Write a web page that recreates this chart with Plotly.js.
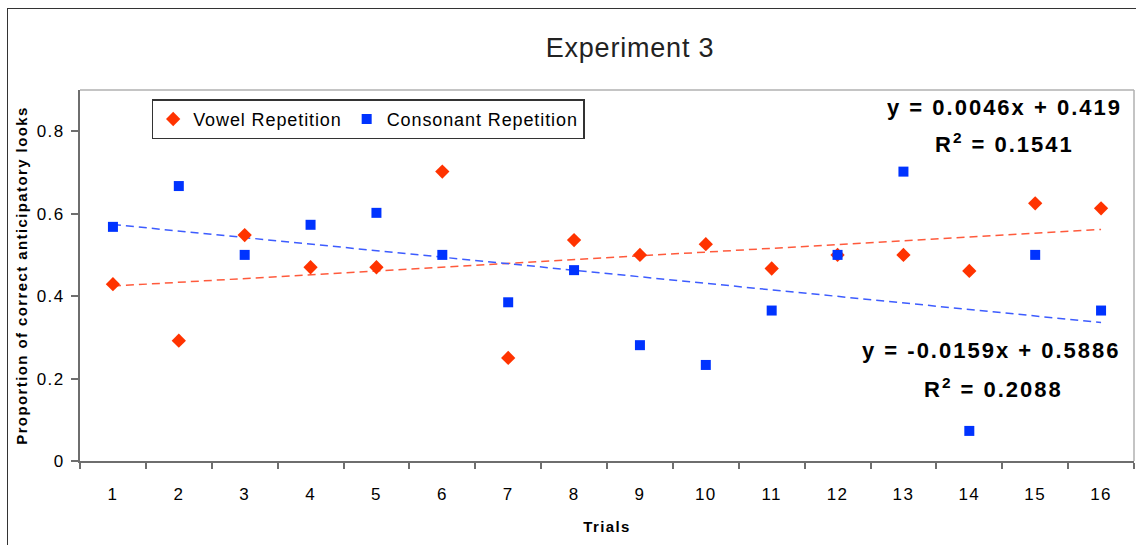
<!DOCTYPE html>
<html>
<head>
<meta charset="utf-8">
<script src="https://cdn.plot.ly/plotly-3.0.1.min.js"></script>
<style>
html,body{margin:0;padding:0;background:#fff;overflow:hidden;}
#chart{width:1136px;height:545px;position:relative;}
#frame{position:absolute;left:7px;top:8px;width:1200px;height:600px;border-left:1.5px solid #333;border-top:1.5px solid #333;pointer-events:none;}
text{letter-spacing:1.4px;}
text.gtitle{letter-spacing:0.8px;}
text.legendtext{letter-spacing:0.9px;}
text.annotation-text{letter-spacing:2px;}
</style>
</head>
<body>
<div id="chart"></div>
<div id="frame"></div>
<script>
const trials = [1,2,3,4,5,6,7,8,9,10,11,12,13,14,15,16];
const vowel = [0.429,0.292,0.548,0.470,0.470,0.702,0.250,0.536,0.500,0.526,0.467,0.500,0.500,0.461,0.625,0.613];
const consonant = [0.568,0.667,0.500,0.573,0.602,0.500,0.385,0.463,0.281,0.233,0.365,0.500,0.702,0.073,0.500,0.365];
const vowelEq = ["y = 0.0046x + 0.419", "R<sup>2</sup> = 0.1541"];
const consEq = ["y = -0.0159x + 0.5886", "R<sup>2</sup> = 0.2088"];

function fit(xs, ys){
  const n = xs.length;
  const mx = xs.reduce((a,b)=>a+b,0)/n, my = ys.reduce((a,b)=>a+b,0)/n;
  let sxy=0,sxx=0;
  for(let i=0;i<n;i++){sxy+=(xs[i]-mx)*(ys[i]-my);sxx+=(xs[i]-mx)*(xs[i]-mx);}
  const b = sxy/sxx, a = my-b*mx;
  const x0 = xs[0], x1 = xs[n-1];
  return {x:[x0,x1], y:[a+b*x0, a+b*x1]};
}
const fv = fit(trials, vowel), fc = fit(trials, consonant);

const font = "Arial, 'Liberation Sans', sans-serif";
const data = [
  {x:fv.x, y:fv.y, mode:'lines', line:{color:'#ff5a3c', width:1.5, dash:'8px,5px'}, showlegend:false, hoverinfo:'skip'},
  {x:fc.x, y:fc.y, mode:'lines', line:{color:'#3d5cff', width:1.5, dash:'8px,5px'}, showlegend:false, hoverinfo:'skip'},
  {x:trials, y:vowel, mode:'markers', name:'Vowel Repetition', marker:{symbol:'diamond', size:11, color:'#ff3300'}},
  {x:trials, y:consonant, mode:'markers', name:'Consonant Repetition', marker:{symbol:'square', size:10, color:'#0033ff'}}
];
const layout = {
  width:1136, height:545,
  margin:{l:80, r:2, t:90, b:84},
  paper_bgcolor:'#fff', plot_bgcolor:'#fff',
  font:{family:font, color:'#000'},
  title:{text:'Experiment 3', x:0.5546, xref:'container', xanchor:'center', y:0.912, yref:'container', yanchor:'middle', font:{size:27, family:font, color:'#222'}},
  xaxis:{range:[0.5,16.5], tickvals:trials, ticktext:trials.map(String), ticks:'', showgrid:false, zeroline:false,
    showline:true, linecolor:'#6e6e6e', linewidth:2, ticklabelstandoff:17, tickfont:{size:17},
    minor:{tick0:0.5, dtick:1, ticks:'outside', ticklen:6, tickwidth:2, tickcolor:'#6e6e6e', showgrid:false},
    title:{text:'<b>Trials</b>', font:{size:15}, standoff:18}},
  yaxis:{range:[0,0.9], tickvals:[0,0.2,0.4,0.6,0.8], ticktext:['0','0.2','0.4','0.6','0.8'], ticks:'outside', ticklen:7, tickwidth:2,
    tickcolor:'#6e6e6e', showgrid:false, zeroline:false, showline:true, linecolor:'#6e6e6e', linewidth:2, tickfont:{size:17},
    ticklabelstandoff:3,
    title:{text:'<b>Proportion of correct anticipatory looks</b>', font:{size:15}, standoff:6}},
  legend:{orientation:'h', x:0.068, y:0.975, xanchor:'left', yanchor:'top', bordercolor:'#333', borderwidth:1.5,
    bgcolor:'#fff', font:{size:18}, itemwidth:30, tracegroupgap:0},
  shapes:[
    {type:'line', xref:'paper', yref:'paper', x0:0, x1:1, y0:1, y1:1, line:{color:'#b0b0b0', width:1.5}},
    {type:'line', xref:'paper', yref:'paper', x0:1, x1:1, y0:0, y1:1, line:{color:'#b0b0b0', width:1.5}}
  ],
  annotations:[
    {xref:'paper', yref:'paper', x:0.8776, y:0.954, xanchor:'center', yanchor:'middle', text:'<b>'+vowelEq[0]+'</b>', showarrow:false, font:{size:22}},
    {xref:'paper', yref:'paper', x:0.8776, y:0.857, xanchor:'center', yanchor:'middle', text:'<b>'+vowelEq[1]+'</b>', showarrow:false, font:{size:22}},
    {xref:'paper', yref:'paper', x:0.865, y:0.299, xanchor:'center', yanchor:'middle', text:'<b>'+consEq[0]+'</b>', showarrow:false, font:{size:22}},
    {xref:'paper', yref:'paper', x:0.867, y:0.197, xanchor:'center', yanchor:'middle', text:'<b>'+consEq[1]+'</b>', showarrow:false, font:{size:22}}
  ]
};
Plotly.newPlot('chart', data, layout, {staticPlot:true, displayModeBar:false});
</script>
</body>
</html>
